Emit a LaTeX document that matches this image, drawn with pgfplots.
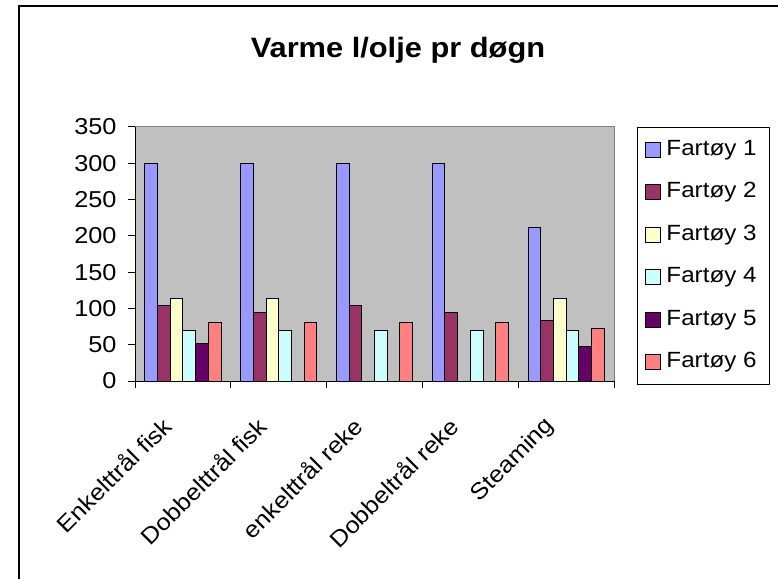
\documentclass[border=0pt]{standalone}
\usepackage{fontspec}
\setmainfont[FakeStretch=1.1]{Liberation Sans}
\usepackage{pgfplots}
\pgfplotsset{compat=1.18}
\definecolor{f1}{HTML}{9999FF}
\definecolor{f2}{HTML}{993366}
\definecolor{f3}{HTML}{FFFFCC}
\definecolor{f4}{HTML}{CCFFFF}
\definecolor{f5}{HTML}{660066}
\definecolor{f6}{HTML}{FF8080}
\definecolor{plotbg}{HTML}{C0C0C0}
\pgfplotsset{
  mylegend/.style={legend image code/.code={\draw[##1,line width=1pt,draw=black] (0pt,-7.5pt) rectangle (15pt,7.5pt);}},
}
\begin{document}
\begin{tikzpicture}
\path[use as bounding box] (0pt,0pt) rectangle (778pt,578pt);
\draw[black, line width=1.2pt] (19pt,-2pt) -- (19pt,572pt) -- (780pt,572pt);
\begin{axis}[
  at={(135pt,197pt)}, anchor=south west,
  scale only axis, width=479pt, height=254pt,
  ybar=0pt, bar width=12.7pt,
  xmin=-0.5, xmax=4.5, ymin=0, ymax=350,
  ytick={0,50,...,350},
  xtick={0,1,2,3,4},
  xticklabels={Enkelttrål fisk, Dobbelttrål fisk, enkelttrål reke, Dobbeltrål reke, Steaming},
  minor xtick={-0.5,0.5,1.5,2.5,3.5,4.5},
  major x tick style={draw=none},
  tick align=outside, major tick length=7pt, minor tick length=7pt,
  tick style={black, line width=1pt},
  axis x line*=bottom, axis y line*=left,
  axis line style={-, black, line width=1pt},
  axis background/.style={fill=plotbg},
  /pgf/number format/assume math mode=true,
  ticklabel style={font=\fontsize{23}{27}\selectfont},
  yticklabel style={anchor=east, xshift=-8pt},
  xticklabel style={xshift=-23pt, yshift=-22pt, rotate=45, anchor=north east},
  title={Varme l/olje pr døgn},
  title style={at={(0.549,1.28)}, anchor=center, font=\bfseries\fontsize{28}{34}\selectfont},
  legend style={at={(1.048,1)}, anchor=north west, draw=black, line width=1pt,
    inner xsep=8pt, inner ysep=12pt, row sep=22.5pt,
    font=\fontsize{22}{26}\selectfont,
    nodes={inner xsep=5pt, inner ysep=0pt, text height=15.5pt, text depth=4.5pt}},
  legend cell align=left,
  after end axis/.code={\draw[gray, line width=1pt] (rel axis cs:0,1) -- (rel axis cs:1,1) -- (rel axis cs:1,0);},
]
\addplot[fill=f1, draw=black, line width=1pt, mylegend] coordinates {(0,300) (1,300) (2,300) (3,300) (4,211)};
\addplot[fill=f2, draw=black, line width=1pt, mylegend] coordinates {(0,104) (1,94) (2,104) (3,94) (4,83)};
\addplot[fill=f3, draw=black, line width=1pt, mylegend] coordinates {(0,113) (1,113) (4,113)};
\addplot[fill=f4, draw=black, line width=1pt, mylegend] coordinates {(0,70) (1,70) (2,70) (3,70) (4,70)};
\addplot[fill=f5, draw=black, line width=1pt, mylegend] coordinates {(0,52) (4,47)};
\addplot[fill=f6, draw=black, line width=1pt, mylegend] coordinates {(0,80) (1,80) (2,80) (3,80) (4,72)};
\legend{Fartøy 1, Fartøy 2, Fartøy 3, Fartøy 4, Fartøy 5, Fartøy 6}
\end{axis}
\end{tikzpicture}
\end{document}
